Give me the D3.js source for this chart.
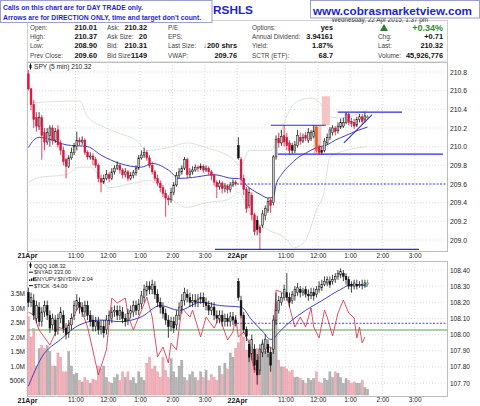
<!DOCTYPE html>
<html><head><meta charset="utf-8">
<script src="https://cdn.jsdelivr.net/npm/d3@7"></script>
<style>body{margin:0;background:#fff}svg{display:block}text{font-family:Arial,"Liberation Sans",sans-serif}</style>
</head><body><svg id="c" width="480" height="406"></svg>
<script>
// ---------- DATA ----------
const xTickSlots = [0,18,30,42,54,66,78,96,108,120,132,144];
const xTickLabels = ["21Apr","11:00","12:00","1:00","2:00","3:00","22Apr","11:00","12:00","1:00","2:00","3:00"];
const priceTicks = [209.0,209.2,209.4,209.6,209.8,210.0,210.2,210.4,210.6,210.8];
const qqqTicks = [107.70,107.80,107.90,108.00,108.10,108.20,108.30,108.40];
const volTicks = [0.5,1.0,1.5,2.0,2.5,3.0,3.5];
const volTickLabels = ["500K","1.0M","1.5M","2.0M","2.5M","3.0M","3.5M"];

// SPY 5-min OHLC, 21 Apr (78 bars) then 22 Apr (49 bars)
const spyOpen = [210.78,210.62,210.45,210.31,210.22,210.31,210.15,210.05,210.12,210.20,210.07,210.18,210.04,209.96,209.86,209.79,209.88,209.94,210.00,210.07,210.05,210.07,209.94,209.89,209.90,209.86,209.80,209.66,209.62,209.66,209.70,209.66,209.73,209.77,209.80,209.75,209.70,209.73,209.66,209.69,209.72,209.77,209.88,209.91,209.94,209.88,209.80,209.73,209.66,209.61,209.56,209.50,209.45,209.43,209.51,209.59,209.69,209.73,209.77,209.86,209.70,209.73,209.75,209.78,209.77,209.79,209.75,209.77,209.73,209.69,209.62,209.57,209.61,209.55,209.58,209.54,209.59,209.62,
 210.01,209.86,209.66,209.54,209.37,209.48,209.27,209.21,209.14,209.16,209.26,209.32,209.43,209.40,209.89,210.09,210.04,210.12,210.10,210.04,210.01,209.96,210.01,210.10,210.06,210.12,210.07,210.09,210.11,210.21,209.99,209.96,209.96,210.04,210.10,210.15,210.20,210.17,210.21,210.22,210.26,210.35,210.27,210.26,210.23,210.29,210.32,210.29,210.31];
const spyHigh = [210.82,210.63,210.50,210.37,210.37,210.34,210.20,210.20,210.23,210.23,210.20,210.23,210.07,210.00,209.88,209.91,209.99,210.04,210.16,210.10,210.11,210.09,209.96,209.94,209.93,209.89,209.82,209.70,209.70,209.75,209.73,209.77,209.80,209.84,209.82,209.77,209.77,209.75,209.73,209.75,209.80,209.91,209.96,209.99,209.96,209.91,209.84,209.75,209.70,209.64,209.59,209.54,209.48,209.56,209.62,209.73,209.77,209.80,209.89,209.88,209.77,209.79,209.81,209.80,209.82,209.81,209.80,209.79,209.75,209.71,209.64,209.64,209.63,209.61,209.60,209.62,209.65,209.64,
 210.10,209.89,209.70,209.57,209.56,209.51,209.29,209.26,209.16,209.32,209.37,209.45,209.45,209.91,210.12,210.15,210.18,210.23,210.15,210.07,210.04,210.06,210.18,210.15,210.14,210.16,210.20,210.18,210.23,210.23,210.02,210.00,210.09,210.14,210.21,210.23,210.22,210.26,210.30,210.31,210.37,210.36,210.31,210.30,210.32,210.35,210.35,210.37,210.34];
const spyLow = [210.60,210.39,210.20,210.16,210.18,209.86,209.96,210.02,210.00,210.02,210.04,209.99,209.91,209.80,209.66,209.77,209.86,209.91,209.96,210.01,210.02,209.91,209.86,209.86,209.80,209.77,209.62,209.51,209.60,209.64,209.62,209.64,209.70,209.75,209.71,209.66,209.67,209.63,209.64,209.66,209.69,209.75,209.86,209.88,209.85,209.77,209.70,209.63,209.58,209.51,209.46,209.25,209.37,209.40,209.48,209.57,209.66,209.70,209.75,209.66,209.67,209.70,209.73,209.73,209.75,209.72,209.73,209.69,209.64,209.58,209.45,209.54,209.50,209.51,209.50,209.51,209.57,209.58,
 209.86,209.59,209.48,209.29,209.34,209.21,209.05,209.05,208.90,209.13,209.21,209.29,209.29,209.37,209.86,209.99,210.01,210.00,209.96,209.91,209.92,209.93,209.99,210.02,210.04,210.06,210.04,210.06,210.09,209.94,209.91,209.91,209.94,210.02,210.07,210.12,210.12,210.14,210.19,210.20,210.24,210.23,210.21,210.19,210.21,210.26,210.24,210.26,210.30];
const spyClose = [210.62,210.45,210.29,210.22,210.31,210.12,210.05,210.15,210.20,210.07,210.16,210.02,209.96,209.84,209.79,209.88,209.94,210.00,210.07,210.05,210.07,209.94,209.89,209.90,209.86,209.80,209.66,209.62,209.66,209.70,209.66,209.73,209.77,209.80,209.75,209.70,209.73,209.66,209.69,209.72,209.77,209.88,209.91,209.94,209.88,209.80,209.73,209.66,209.61,209.56,209.50,209.45,209.43,209.51,209.59,209.69,209.73,209.77,209.86,209.70,209.73,209.75,209.78,209.77,209.79,209.75,209.77,209.73,209.69,209.62,209.57,209.61,209.55,209.58,209.54,209.59,209.62,209.60,
 209.88,209.66,209.54,209.34,209.51,209.27,209.09,209.11,209.08,209.28,209.34,209.41,209.37,209.89,210.08,210.04,210.11,210.05,210.01,209.96,209.96,210.02,210.12,210.06,210.10,210.09,210.15,210.15,210.17,209.96,209.94,209.94,210.06,210.10,210.18,210.20,210.16,210.22,210.26,210.26,210.35,210.26,210.25,210.22,210.29,210.32,210.27,210.33,210.32];

// QQQ 5-min OHLC
const qqqOpen = [108.26,108.20,108.21,108.10,108.17,108.08,108.14,108.18,108.12,108.06,108.09,108.03,108.10,108.12,108.04,108.01,108.06,108.12,108.18,108.20,108.17,108.14,108.18,108.12,108.09,108.05,108.08,108.03,108.05,108.03,108.09,108.10,108.14,108.15,108.12,108.14,108.10,108.09,108.13,108.14,108.18,108.15,108.19,108.23,108.27,108.30,108.28,108.30,108.25,108.20,108.17,108.13,108.09,108.05,108.08,108.06,108.12,108.17,108.21,108.25,108.23,108.20,108.21,108.20,108.22,108.23,108.20,108.18,108.15,108.17,108.12,108.10,108.12,108.08,108.10,108.08,108.11,108.09,
 108.33,108.21,108.12,108.03,107.94,107.88,107.91,107.84,107.78,107.89,107.91,107.94,107.89,107.91,108.09,108.15,108.20,108.23,108.26,108.23,108.21,108.24,108.26,108.28,108.26,108.28,108.25,108.24,108.26,108.25,108.28,108.29,108.31,108.32,108.33,108.33,108.34,108.36,108.37,108.38,108.36,108.34,108.31,108.30,108.31,108.31,108.31,108.31,108.31];
const qqqHigh = [108.29,108.26,108.25,108.21,108.20,108.17,108.21,108.21,108.15,108.13,108.12,108.13,108.17,108.15,108.07,108.09,108.13,108.21,108.25,108.23,108.20,108.21,108.21,108.15,108.12,108.11,108.11,108.09,108.09,108.12,108.15,108.17,108.18,108.18,108.18,108.17,108.13,108.16,108.18,108.21,108.21,108.22,108.27,108.31,108.33,108.33,108.34,108.33,108.28,108.23,108.20,108.16,108.12,108.11,108.11,108.15,108.20,108.25,108.29,108.28,108.26,108.25,108.25,108.25,108.26,108.26,108.23,108.21,108.20,108.20,108.15,108.15,108.15,108.13,108.13,108.14,108.14,108.12,
 108.35,108.24,108.14,108.05,107.97,108.00,107.94,107.88,107.94,107.97,108.00,107.97,107.92,108.12,108.26,108.24,108.26,108.31,108.38,108.26,108.27,108.30,108.32,108.30,108.29,108.30,108.28,108.29,108.29,108.30,108.33,108.34,108.36,108.36,108.36,108.37,108.38,108.40,108.41,108.40,108.38,108.36,108.33,108.34,108.34,108.33,108.34,108.34,108.34];
const qqqLow = [108.17,108.17,108.09,108.07,108.05,108.05,108.11,108.09,108.01,108.03,107.99,108.00,108.07,108.01,107.97,107.98,108.03,108.09,108.15,108.13,108.11,108.11,108.09,108.05,108.02,108.02,108.00,108.00,107.98,108.00,108.06,108.07,108.11,108.09,108.09,108.07,108.05,108.06,108.10,108.11,108.12,108.12,108.16,108.20,108.24,108.25,108.25,108.22,108.17,108.13,108.10,108.06,107.98,108.02,108.01,108.03,108.09,108.13,108.18,108.20,108.17,108.17,108.17,108.17,108.19,108.17,108.15,108.12,108.12,108.09,108.07,108.07,108.05,108.05,108.05,108.05,108.06,108.05,
 108.21,108.10,108.01,107.96,107.83,107.84,107.78,107.69,107.75,107.86,107.88,107.86,107.77,107.88,108.06,108.13,108.18,108.21,108.21,108.17,108.19,108.21,108.24,108.23,108.24,108.23,108.21,108.22,108.21,108.23,108.26,108.27,108.30,108.30,108.29,108.31,108.32,108.34,108.35,108.33,108.31,108.28,108.26,108.28,108.28,108.29,108.28,108.29,108.30];
const qqqClose = [108.20,108.23,108.12,108.18,108.08,108.14,108.18,108.12,108.04,108.10,108.02,108.10,108.14,108.04,108.00,108.06,108.10,108.18,108.21,108.17,108.14,108.18,108.12,108.08,108.05,108.08,108.03,108.05,108.01,108.09,108.12,108.14,108.15,108.12,108.15,108.10,108.08,108.13,108.15,108.18,108.15,108.19,108.24,108.28,108.30,108.28,108.31,108.25,108.20,108.17,108.13,108.09,108.05,108.08,108.04,108.12,108.17,108.21,108.26,108.23,108.20,108.21,108.20,108.22,108.23,108.20,108.18,108.15,108.17,108.12,108.10,108.12,108.08,108.10,108.08,108.11,108.09,108.07,
 108.23,108.12,108.03,107.99,107.86,107.97,107.81,107.75,107.91,107.94,107.97,107.89,107.81,108.09,108.15,108.21,108.23,108.28,108.23,108.20,108.25,108.28,108.29,108.26,108.27,108.25,108.24,108.26,108.24,108.28,108.30,108.31,108.33,108.34,108.31,108.34,108.36,108.38,108.39,108.36,108.34,108.30,108.30,108.32,108.30,108.31,108.31,108.32,108.32];

// volume, millions
const volume = [2.7,2.0,2.3,1.0,1.6,1.7,1.6,1.7,1.5,1.0,1.0,1.45,1.3,0.8,0.8,1.5,1.0,0.7,0.75,0.5,0.45,0.6,0.5,0.4,0.55,0.5,1.0,0.9,1.0,0.6,0.45,0.4,0.6,0.7,0.5,0.8,0.6,0.8,0.5,0.6,0.4,0.8,0.6,0.5,1.1,1.3,0.9,1.0,0.8,0.6,1.3,0.85,0.6,1.25,0.8,0.6,1.0,1.2,0.6,0.5,0.7,0.8,0.6,0.5,0.8,0.6,0.85,0.5,0.7,0.6,0.5,1.0,0.7,1.1,0.9,1.45,1.3,1.6,
 1.8,2.9,2.0,1.55,1.3,1.65,1.55,1.6,1.55,1.8,1.5,1.4,1.3,2.2,3.2,1.2,0.97,0.97,0.9,0.8,0.85,0.6,0.62,0.57,0.5,0.4,0.57,0.5,0.57,0.8,0.45,0.4,0.57,0.5,0.8,0.6,0.8,0.75,0.6,0.4,0.57,0.5,0.4,0.45,0.4,0.4,0.5,0.25,0.2];

// SPY moving average (bar index, value)
const spyMaIdx = [0,2,4,9,14,22,27,34,42,46,52,56,61,69,76,78,82,86,89,91,92,94,97,100,103,107,111,114,118,122,126];
const spyMaVal = [209.99,210.07,210.10,210.07,210.02,210.00,209.91,209.82,209.78,209.82,209.75,209.66,209.67,209.70,209.66,209.66,209.56,209.49,209.45,209.46,209.59,209.70,209.80,209.88,209.93,209.99,210.02,210.07,210.12,210.17,210.21];
// SPY bollinger bands
const bbUpIdx = [1,19,22,28,34,40,44,52,59,66,75,79,82,90,94,97,101,105,108,111,114,118,123,126];
const bbUpVal = [210.47,210.49,210.32,210.21,210.14,210.07,209.96,209.99,210.04,209.99,209.89,209.80,209.96,209.96,210.18,210.39,210.50,210.52,210.48,210.34,210.31,210.31,210.36,210.39];
const bbLoIdx = [0,4,14,19,23,30,39,45,52,59,66,74,78,83,89,95,99,103,107,110,111,112,118,126];
const bbLoVal = [209.62,209.67,209.70,209.78,209.78,209.56,209.61,209.64,209.46,209.35,209.40,209.43,209.51,209.25,209.11,209.03,208.92,209.00,209.32,209.54,209.75,209.89,209.96,210.00];

// QQQ moving average
const qqqMaIdx = [0,5,12,19,27,34,42,49,56,64,71,79,83,87,90,94,98,103,109,116,120,126];
const qqqMaVal = [107.68,107.86,107.97,108.06,108.09,108.08,108.11,108.18,108.15,108.20,108.18,108.17,108.09,108.02,107.97,108.03,108.09,108.15,108.21,108.28,108.31,108.30];

// $TICK
const tickIdx = [0,2,4,8,11,14,17,19,22,26,29,31,33,36,37,39,41,44,46,48,50,52,53,55,57,60,61,64,66,69,71,74,76,77,78,80,82,84,86,88,90,91,92,94,96,98,99,101,103,105,106,108,110,111,113,115,117,119,121,122,123,124,125];
const tickVal = [139,116,0,-116,23,0,116,193,23,-347,-154,247,208,247,116,0,100,254,100,-208,-131,-254,-100,-154,170,100,154,-54,100,15,100,-77,-15,100,-54,-15,-100,-331,-177,-139,-131,-154,308,293,254,100,23,100,23,170,23,-62,154,100,-46,131,231,131,93,-62,23,-100,-54];

// annotations: [fromIdx, toIdx, price]
const levelLines = [[115.4,139.3,210.37],[90.6,111,210.23],[93.2,154.5,209.92],[69.8,145.6,208.90]];
const prevCloseSpy = 209.60, prevCloseQqq = 108.07, tickZero = 0;
const trendLine = [[117.7,210.04],[128.1,210.34]];
const zoneBoxes = [[109.5,112.5,210.54,210.23],[106.4,109.3,210.23,209.93]];
const highlightBar = 107;

// header info
const infoCols = [
 {lx:30, vx:97, rows:[["Open:","210.01"],["High:","210.37"],["Low:","208.90"],["Prev Close:","209.60"]]},
 {lx:107,vx:147,rows:[["Ask:","210.32"],["Ask Size:","20"],["Bid:","210.31"],["Bid Size:","1149"]]},
 {lx:168,vx:237,rows:[["P/E",""],["EPS:",""],["Last Size:","200 shrs"],["VWAP:","209.76"]]},
 {lx:252,vx:333,rows:[["Options:","yes"],["Annual Dividend:","3.94161"],["Yield:","1.87%"],["SCTR (ETF):","68.7"]]},
 {lx:378,vx:443,rows:[["",""],["Chg:","+0.71"],["Last:","210.32"],["Volume:","45,926,776"]]}
];

// ---------- DRAW ----------
const svg = d3.select("#c");
const L=27,R=447, T1=62,B1=251, T2=261,B2=396;
const xS = d3.scaleLinear().domain([0,156]).range([L,R]);
const yP = d3.scaleLinear().domain([209.0,210.8]).range([240,72]);
const yQ = d3.scaleLinear().domain([107.70,108.40]).range([383,270]);
const yV = d3.scaleLinear().domain([0,3.5]).range([395,293.5]);
const yT = d3.scaleLinear().domain([-400,400]).range([381.8,278.2]);
const RED="#dc143c";

svg.append("rect").attr("width",480).attr("height",406).attr("fill","#fff");
const defs = svg.append("defs");
defs.append("clipPath").attr("id","cp1").append("rect").attr("x",L).attr("y",T1).attr("width",R-L).attr("height",B1-T1);
defs.append("clipPath").attr("id","cp2").append("rect").attr("x",L).attr("y",T2).attr("width",R-L).attr("height",B2-T2);

// header table
svg.append("rect").attr("x",L+0.5).attr("y",20.5).attr("width",R-L).attr("height",T1-20.5).attr("fill","#fff").attr("stroke","#cfcfcf");
svg.append("text").attr("x",428).attr("y",22.3).attr("text-anchor","end").attr("font-size",6.3).attr("fill","#333").text("Wednesday, 22 Apr 2015, 1:37 pm");
const rowY=[29.5,38.5,48,57.5];
infoCols.forEach(c=>{
  c.rows.forEach((r,j)=>{
    if(r[0]) svg.append("text").attr("x",c.lx).attr("y",rowY[j]).attr("font-size",6.4).attr("fill","#444").text(r[0]);
    if(r[1]){
      const t=svg.append("text").attr("x",c.vx).attr("y",rowY[j]).attr("text-anchor","end").attr("font-size",7.4).attr("font-weight","bold").attr("fill","#111");
      if(r[0]==="Last Size:"){t.append("tspan").attr("fill","#c8102e").text("\u2193");t.append("tspan").text(r[1]);}
      else t.text(r[1]);
    }
  });
});
svg.append("path").attr("d","M380,31 L384,24 L388,31 Z").attr("fill","#2e7d32");
svg.append("text").attr("x",443).attr("y",30.5).attr("text-anchor","end").attr("font-size",9).attr("font-weight","bold").attr("fill","#2e8b2e").text("+0.34%");

// title fragment and boxes
svg.append("text").attr("x",213).attr("y",14).attr("font-size",11.8).attr("font-weight","bold").attr("fill","#1f1fd6").text("RSHLS");
svg.append("rect").attr("x",0.5).attr("y",0.5).attr("width",211.5).attr("height",22).attr("fill","#fff").attr("stroke","#9aa0c8");
svg.append("text").attr("x",3).attr("y",10).attr("font-size",6.8).attr("font-weight","bold").attr("fill","#1f1fd6").text("Calls on this chart are for DAY TRADE only.");
svg.append("text").attr("x",3).attr("y",19.5).attr("font-size",6.8).attr("font-weight","bold").attr("fill","#1f1fd6").text("Arrows are for DIRECTION ONLY, time and target don't count.");
svg.append("rect").attr("x",310.5).attr("y",0.5).attr("width",169).attr("height",17.5).attr("fill","#fff").attr("stroke","#9aa0c8");
svg.append("text").attr("x",313).attr("y",14.8).attr("font-size",11.7).attr("font-weight","bold").attr("fill","#1f1fd6").text("www.cobrasmarketview.com");

// panels
[[T1,B1],[T2,B2]].forEach(([t,b])=>svg.append("rect").attr("x",L+0.5).attr("y",t+0.5).attr("width",R-L).attr("height",b-t).attr("fill","#fff").attr("stroke","#bdbdbd"));

// gridlines
const grid = svg.append("g").attr("stroke","#cfcfcf").attr("stroke-dasharray","1,2").attr("stroke-width",0.8);
xTickSlots.forEach(s=>{
  grid.append("line").attr("x1",xS(s)).attr("x2",xS(s)).attr("y1",T1).attr("y2",B1);
  grid.append("line").attr("x1",xS(s)).attr("x2",xS(s)).attr("y1",T2).attr("y2",B2);
});
priceTicks.forEach(p=>grid.append("line").attr("x1",L).attr("x2",R).attr("y1",yP(p)).attr("y2",yP(p)));
qqqTicks.forEach(p=>grid.append("line").attr("x1",L).attr("x2",R).attr("y1",yQ(p)).attr("y2",yQ(p)));

// axes
function styleAxis(g,fs){g.select(".domain").remove();g.selectAll("line").remove();g.selectAll("text").attr("font-size",fs).attr("fill","#222").attr("font-family","Arial,'Liberation Sans',sans-serif");}
svg.append("g").attr("transform",`translate(${R},0)`).call(d3.axisRight(yP).tickValues(priceTicks).tickFormat(d3.format(".1f")).tickSize(0).tickPadding(3)).call(g=>styleAxis(g,6.8));
svg.append("g").attr("transform",`translate(${R},0)`).call(d3.axisRight(yQ).tickValues(qqqTicks).tickFormat(d3.format(".2f")).tickSize(0).tickPadding(3)).call(g=>styleAxis(g,6.5));
svg.append("g").attr("transform",`translate(${L},0)`).call(d3.axisLeft(yV).tickValues(volTicks).tickFormat((d,i)=>volTickLabels[i]).tickSize(0).tickPadding(2)).call(g=>styleAxis(g,6.5));
[[B1,2.2],[B2,1.8]].forEach(([y,pad])=>{
  svg.append("g").attr("transform",`translate(0,${y})`).call(d3.axisBottom(xS).tickValues(xTickSlots).tickFormat((d,i)=>xTickLabels[i]).tickSize(0).tickPadding(pad))
   .call(g=>{styleAxis(g,6.5);g.selectAll("text").filter(d=>d===0||d===78).attr("font-weight","bold").attr("font-size",7);});
});

// ---------- top panel ----------
const p1 = svg.append("g").attr("clip-path","url(#cp1)");
zoneBoxes.forEach(b=>p1.append("rect").attr("x",xS(b[0])).attr("width",xS(b[1])-xS(b[0])).attr("y",yP(b[2])).attr("height",yP(b[3])-yP(b[2])).attr("fill","#f6b9bd").attr("opacity",0.85));
const lineOf=(ys)=>d3.line().x(d=>xS(d[0]+0.5)).y(d=>ys(d[1])).curve(d3.curveMonotoneX);
p1.append("path").datum(d3.zip(bbUpIdx,bbUpVal)).attr("d",lineOf(yP)).attr("fill","none").attr("stroke","#cfdccf").attr("stroke-width",0.8);
p1.append("path").datum(d3.zip(bbLoIdx,bbLoVal)).attr("d",lineOf(yP)).attr("fill","none").attr("stroke","#cfdccf").attr("stroke-width",0.8);
p1.append("line").attr("x1",xS(78)).attr("x2",R).attr("y1",yP(prevCloseSpy)).attr("y2",yP(prevCloseSpy)).attr("stroke","#3030e0").attr("stroke-dasharray","2,1.5").attr("stroke-width",0.9);
p1.append("path").datum(d3.zip(spyMaIdx,spyMaVal)).attr("d",lineOf(yP)).attr("fill","none").attr("stroke","#4040c8").attr("stroke-width",1);

function candles(g,O,H,Lo,C,ys,useRed){
  const n=C.length;
  for(let i=0;i<n;i++){
    const x=xS(i+0.5), up=C[i]>=O[i], prev=i>0?C[i-1]:O[i];
    let col = (useRed && C[i]<prev) ? RED : "#111";
    let fill = up ? "#c9c9c9" : col;
    if(i===highlightBar && useRed){col="#d2531a";fill="#e0601c";}
    if(i===n-1){fill="#9bd67f";col="#4a9a3a";}
    g.append("line").attr("x1",x).attr("x2",x).attr("y1",ys(H[i])).attr("y2",ys(Lo[i])).attr("stroke",col).attr("stroke-width",0.8);
    const y0=ys(Math.max(O[i],C[i])), h=Math.max(1,Math.abs(ys(O[i])-ys(C[i])));
    g.append("rect").attr("x",x-0.9).attr("y",y0).attr("width",1.8).attr("height",h).attr("fill",fill).attr("stroke",col).attr("stroke-width",0.5);
  }
}
candles(p1,spyOpen,spyHigh,spyLow,spyClose,yP,true);
const ann = p1.append("g").attr("stroke","#2a2ae8").attr("stroke-width",1.1);
levelLines.forEach(l=>ann.append("line").attr("x1",xS(l[0])).attr("x2",xS(l[1])).attr("y1",yP(l[2])).attr("y2",yP(l[2])));
ann.append("line").attr("x1",xS(trendLine[0][0])).attr("y1",yP(trendLine[0][1])).attr("x2",xS(trendLine[1][0])).attr("y2",yP(trendLine[1][1]));

// top legend
svg.append("line").attr("x1",30.5).attr("x2",30.5).attr("y1",63.5).attr("y2",69.5).attr("stroke","#111");
svg.append("rect").attr("x",29.5).attr("y",65).attr("width",2).attr("height",3).attr("fill","#111");
svg.append("text").attr("x",34).attr("y",69).attr("font-size",6.6).attr("font-family","'DejaVu Sans Mono',monospace").attr("fill","#222").text("SPY (5 min) 210.32");

// ---------- bottom panel ----------
const p2 = svg.append("g").attr("clip-path","url(#cp2)");
volume.forEach((v,i)=>{
  const down = spyClose[i] < spyOpen[i];
  p2.append("rect").attr("x",xS(i)+0.3).attr("width",2.1).attr("y",yV(v)).attr("height",yV(0)-yV(v))
    .attr("fill",down?"#f2b0b8":"#b3b3b3").attr("stroke",down?"#e68f9c":"#9a9a9a").attr("stroke-width",0.4);
});
p2.append("line").attr("x1",L).attr("x2",R).attr("y1",yT(tickZero)).attr("y2",yT(tickZero)).attr("stroke","#8fbf8a").attr("stroke-width",1.4);
p2.append("line").attr("x1",xS(78)).attr("x2",R).attr("y1",yQ(prevCloseQqq)).attr("y2",yQ(prevCloseQqq)).attr("stroke","#3030e0").attr("stroke-dasharray","2,1.5").attr("stroke-width",0.9);
p2.append("path").datum(d3.zip(tickIdx,tickVal)).attr("d",d3.line().x(d=>xS(d[0]+0.5)).y(d=>yT(d[1]))).attr("fill","none").attr("stroke","#e23a55").attr("stroke-width",0.9);
p2.append("path").datum(d3.zip(qqqMaIdx,qqqMaVal)).attr("d",lineOf(yQ)).attr("fill","none").attr("stroke","#4040c8").attr("stroke-width",1);
candles(p2,qqqOpen,qqqHigh,qqqLow,qqqClose,yQ,false);

// bottom legend
const lg = svg.append("g").attr("font-family","'DejaVu Sans Mono',monospace").attr("font-size",5.6).attr("fill","#222");
const legendItems = ["QQQ 108.32","$NYAD 333.00","$NYUPV:$NYDNV 2.04","$TICK -54.00"];
legendItems.forEach((t,j)=>{
  const y=267.5+j*6.7;
  lg.append("text").attr("x",34).attr("y",y).text(t);
  if(j===0){svg.append("line").attr("x1",30.5).attr("x2",30.5).attr("y1",y-5).attr("y2",y+0.5).attr("stroke","#111");svg.append("rect").attr("x",29.5).attr("y",y-3.5).attr("width",2).attr("height",2.5).attr("fill","#111");}
  else if(j===2){[29,31,33].forEach((bx,k)=>svg.append("rect").attr("x",bx).attr("y",y-1.5-k).attr("width",1.4).attr("height",1.5+k).attr("fill","#111"));}
  else svg.append("line").attr("x1",29).attr("x2",33).attr("y1",y-2).attr("y2",y-2).attr("stroke","#111").attr("stroke-width",1);
});
</script></body></html>
